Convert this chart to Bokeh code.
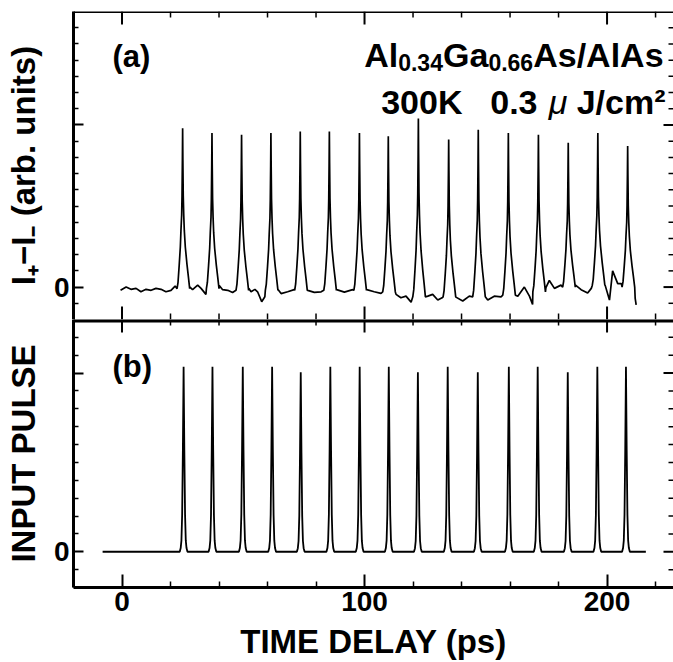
import math
from bokeh.plotting import figure
from bokeh.models import Range1d, FixedTicker, LinearAxis, Label, CustomJSTickFormatter, Span
from bokeh.layouts import column
from bokeh.embed import file_html
from bokeh.resources import INLINE

# ---------------- data ----------------
X_RANGE = (-20, 227.4)
Y_RANGE_A = (-0.2, 1.7)
Y_RANGE_B = (-0.2, 1.3)
X_MAJOR = [0, 100, 200]
X_MINOR = [-20, 20, 40, 60, 80, 120, 140, 160, 180, 220]
Y_MAJOR = [0, 1]
Y_MINOR_A = [-0.1, 0.1, 0.2, 0.3, 0.4, 0.5, 0.6, 0.7, 0.8, 0.9, 1.1, 1.2, 1.3, 1.4, 1.5, 1.6]
Y_MINOR_B = [-0.1, 0.1, 0.2, 0.3, 0.4, 0.5, 0.6, 0.7, 0.8, 0.9, 1.1, 1.2]

# (a) I+ - I- : peak positions, heights, local baseline level
PEAK_T_A = [25.0, 37.1, 49.3, 61.4, 73.5, 85.5, 97.9, 109.8, 122.2, 134.7, 146.9, 159.3, 171.7, 184.0, 196.2, 208.5]
PEAK_H_A = [0.98, 0.95, 0.94, 0.95, 0.96, 0.96, 0.95, 0.93, 1.04, 0.91, 0.97, 0.95, 0.94, 0.89, 0.95, 0.87]
PEAK_B_A = [-0.01, -0.01, -0.02, -0.02, -0.02, -0.02, -0.02, -0.03, -0.06, -0.06, -0.06, -0.05, -0.03, 0.0, 0.01, 0.0]
# shape of one (a) peak: offset (ps) and fraction of peak height
PROF_OFF_A = [-2.3, -1.9, -1.4, -0.95, -0.7, -0.4, -0.25, -0.1, 0.0, 0.1, 0.25, 0.45, 0.7, 1.1, 1.8, 2.4, 2.9]
PROF_VAL_A = [0.0, 0.04, 0.15, 0.26, 0.36, 0.46, 0.58, 0.8, 1.0, 0.8, 0.58, 0.46, 0.36, 0.26, 0.15, 0.07, 0.0]
# baseline of (a) between peaks
BASE_T_A = [-0.6, 1.7, 3.7, 5.8, 7.8, 9.9, 12.0, 14.0, 16.1, 18.1, 20.2, 21.9,
            28.0, 29.1, 31.2, 32.6, 34.6,
            40.1, 41.5, 43.6, 45.6,
            52.3, 53.2, 54.8, 55.9, 57.6, 58.9,
            64.4, 65.6, 68.3, 71.0,
            76.6, 79.3, 82.1,
            88.5, 91.7, 95.1,
            100.9, 104.0, 106.8,
            113.0, 115.0, 117.1, 119.2,
            126.1, 128.1, 130.2, 132.0,
            137.7, 140.5, 143.2,
            150.8, 153.5, 156.3,
            163.2, 165.9, 168.0, 169.3,
            174.8, 176.2, 178.3, 181.0,
            187.0, 189.3, 192.0, 193.5,
            199.2, 201.0, 202.3, 204.4, 205.9,
            211.6, 212.0]
BASE_V_A = [-0.02, 0.0, -0.014, -0.008, -0.029, -0.014, -0.02, -0.008, -0.014, -0.029, -0.02, 0.006,
            0.0, -0.016, 0.012, -0.008, -0.045,
            0.01, -0.016, -0.02, -0.033,
            -0.008, -0.029, -0.014, -0.029, -0.09, -0.06,
            -0.016, -0.04, -0.029, -0.016,
            -0.02, -0.033, -0.029,
            -0.016, -0.031, -0.016,
            -0.016, -0.029, -0.039,
            -0.045, -0.066, -0.056, -0.093,
            -0.056, -0.045, -0.08, -0.066,
            -0.062, -0.086, -0.056,
            -0.08, -0.056, -0.06,
            -0.056, 0.0, -0.056, -0.107,
            -0.004, 0.041, -0.008, 0.012,
            0.012, -0.016, -0.037, -0.008,
            0.012, -0.08, 0.1, 0.021, 0.021,
            -0.07, -0.11]

# (b) input pulse
PEAK_T_B = [25.4, 37.3, 49.8, 61.9, 73.7, 85.9, 98.0, 110.0, 122.0, 134.3, 146.7, 159.5, 171.4, 183.8, 196.0, 207.8]
PEAK_H_B = [1.035, 1.035, 1.035, 1.035, 1.005, 1.035, 1.035, 1.035, 1.005, 1.035, 1.005, 1.035, 1.035, 1.005, 1.035, 1.035]
PROF_OFF_B = [-1.6, -1.2, -0.9, -0.6, -0.3, 0.0, 0.3, 0.6, 0.9, 1.2, 1.6]
PROF_VAL_B = [0.0, 0.02, 0.06, 0.2, 0.55, 1.0, 0.55, 0.2, 0.06, 0.02, 0.0]
BASE_T_B = [-8.0, 216.0]
BASE_V_B = [0.0, 0.0]


def build_trace(base_t, base_v, peak_t, peak_h, peak_b, off, val):
    pts = [(t, v) for t, v in zip(base_t, base_v)
           if all(not (pk + off[0] <= t <= pk + off[-1]) for pk in peak_t)]
    for pk, h, b in zip(peak_t, peak_h, peak_b):
        for o, r in zip(off, val):
            pts.append((pk + o, b + r * (h - b)))
    pts.sort()
    return [p[0] for p in pts], [p[1] for p in pts]


xa, ya = build_trace(BASE_T_A, BASE_V_A, PEAK_T_A, PEAK_H_A, PEAK_B_A, PROF_OFF_A, PROF_VAL_A)
xb, yb = build_trace(BASE_T_B, BASE_V_B, PEAK_T_B, PEAK_H_B, [0.0] * len(PEAK_T_B), PROF_OFF_B, PROF_VAL_B)

FONT = "Liberation Sans"
MAJ_X, MIN_X, MAJ_Y, MIN_Y = 13, 6, 10, 5


def style_axis(ax):
    ax.axis_line_width = 3
    ax.axis_line_color = "black"
    ax.major_tick_line_width = 2
    ax.minor_tick_line_width = 1.5
    ax.major_tick_out = 0
    ax.minor_tick_out = 0
    ax.major_label_text_font = FONT
    ax.major_label_text_font_style = "bold"
    ax.major_label_text_color = "black"
    ax.major_label_text_font_size = "28px"
    ax.major_label_standoff = 4
    ax.axis_label_text_font = FONT
    ax.axis_label_text_font_style = "bold"
    ax.axis_label_text_font_size = "33px"
    ax.axis_label_text_color = "black"
    return ax


def make_fig(height, y_range, top, bottom):
    p = figure(width=673, height=height, x_range=Range1d(*X_RANGE), y_range=Range1d(*y_range),
               output_backend="svg", toolbar_location=None,
               x_axis_location=None, y_axis_location=None,
               min_border_left=73, min_border_right=0, min_border_top=top, min_border_bottom=bottom)
    p.outline_line_color = None
    p.background_fill_color = "white"
    p.border_fill_color = "white"
    for g in p.grid:
        g.visible = False
    return p


def inner_ticks(p, ticks, fixed, length, width, side):
    # ticks drawn inward from a frame edge, length in screen pixels
    if side in ("top", "bottom"):
        xs, ys = ticks, [fixed] * len(ticks)
        ang = -math.pi / 2 if side == "top" else math.pi / 2
    else:
        xs, ys = [fixed] * len(ticks), ticks
        ang = math.pi
    p.ray(x=xs, y=ys, length=length, length_units="screen", angle=ang,
          line_color="black", line_width=width)


zero_fmt = CustomJSTickFormatter(code="return tick == 0 ? '0' : '';")

# ---------------- panel (a) ----------------
pa = make_fig(319, Y_RANGE_A, 11, 0)
pa.line(xa, ya, line_color="black", line_width=1.7)

ax = style_axis(LinearAxis(ticker=FixedTicker(ticks=Y_MAJOR, minor_ticks=Y_MINOR_A), formatter=zero_fmt,
                           axis_label="I\u208a\u2212I\u208b (arb. units)"))
ax.major_tick_in, ax.minor_tick_in = MAJ_Y, MIN_Y
ax.axis_label_standoff = 9
pa.add_layout(ax, "left")

pa.add_layout(Span(location=Y_RANGE_A[1], dimension="width", line_color="black", line_width=3))
inner_ticks(pa, X_MAJOR, Y_RANGE_A[1], MAJ_X, 2, "top")
inner_ticks(pa, X_MINOR, Y_RANGE_A[1], MIN_X, 1.5, "top")
inner_ticks(pa, X_MAJOR, Y_RANGE_A[0], MAJ_X, 2, "bottom")
inner_ticks(pa, X_MINOR, Y_RANGE_A[0], MIN_X, 1.5, "bottom")
inner_ticks(pa, Y_MAJOR, X_RANGE[1], MAJ_Y, 2, "right")
inner_ticks(pa, Y_MINOR_A, X_RANGE[1], MIN_Y, 1.5, "right")

pa.add_layout(Label(x=-3.9, y=1.425, text="(a)", text_font=FONT, text_font_style="bold",
                    text_font_size="31px", text_color="black",
                    text_baseline="alphabetic", text_align="left"))

# composite title: Al0.34Ga0.66As/AlAs
parts1 = [("As/AlAs", 0, 0, "34px"), ("0.66", -130.4, -7, "23px"), ("Ga", -175.2, 0, "34px"),
          ("0.34", -220.6, -7, "23px"), ("Al", -265.4, 0, "34px")]
for txt, dx, dy, fs in parts1:
    pa.add_layout(Label(x=223.3, y=1.43, x_offset=dx, y_offset=dy, text=txt, text_font=FONT,
                        text_font_style="bold", text_font_size=fs, text_align="right",
                        text_color="black", text_baseline="alphabetic"))
parts2 = [("J/cm\u00b2", 0, "bold"), ("\u03bc", -98, "italic"), ("0.3", -128, "bold"), ("300K", -203, "bold")]
for txt, dx, st in parts2:
    pa.add_layout(Label(x=224.1, y=1.14, x_offset=dx, text=txt, text_font=FONT,
                        text_font_style=st, text_font_size="34px", text_align="right",
                        text_color="black", text_baseline="alphabetic"))

# ---------------- panel (b) ----------------
pb = make_fig(343, Y_RANGE_B, 0, 75)
pb.line(xb, yb, line_color="black", line_width=1.8)

ax = style_axis(LinearAxis(ticker=FixedTicker(ticks=Y_MAJOR, minor_ticks=Y_MINOR_B), formatter=zero_fmt,
                           axis_label="INPUT PULSE"))
ax.major_tick_in, ax.minor_tick_in = MAJ_Y, MIN_Y
ax.axis_label_standoff = 9
pb.add_layout(ax, "left")

axb = style_axis(LinearAxis(ticker=FixedTicker(ticks=X_MAJOR, minor_ticks=X_MINOR), axis_label="TIME DELAY (ps)"))
axb.major_tick_in, axb.minor_tick_in = MAJ_X, MIN_X
axb.major_label_standoff = 4
axb.axis_label_standoff = 9
pb.add_layout(axb, "below")

# panel divider (drawn once, along the top edge of panel b)
pb.add_layout(Span(location=Y_RANGE_B[1], dimension="width", line_color="black", line_width=6))
inner_ticks(pb, X_MAJOR, Y_RANGE_B[1], MAJ_X, 2, "top")
inner_ticks(pb, X_MINOR, Y_RANGE_B[1], MIN_X, 1.5, "top")
inner_ticks(pb, Y_MAJOR, X_RANGE[1], MAJ_Y, 2, "right")
inner_ticks(pb, Y_MINOR_B, X_RANGE[1], MIN_Y, 1.5, "right")

pb.add_layout(Label(x=-3.9, y=1.037, text="(b)", text_font=FONT, text_font_style="bold",
                    text_font_size="31px", text_color="black",
                    text_baseline="alphabetic", text_align="left"))

layout = column(pa, pb, spacing=0)
open("out.html", "w").write(file_html(layout, INLINE))
